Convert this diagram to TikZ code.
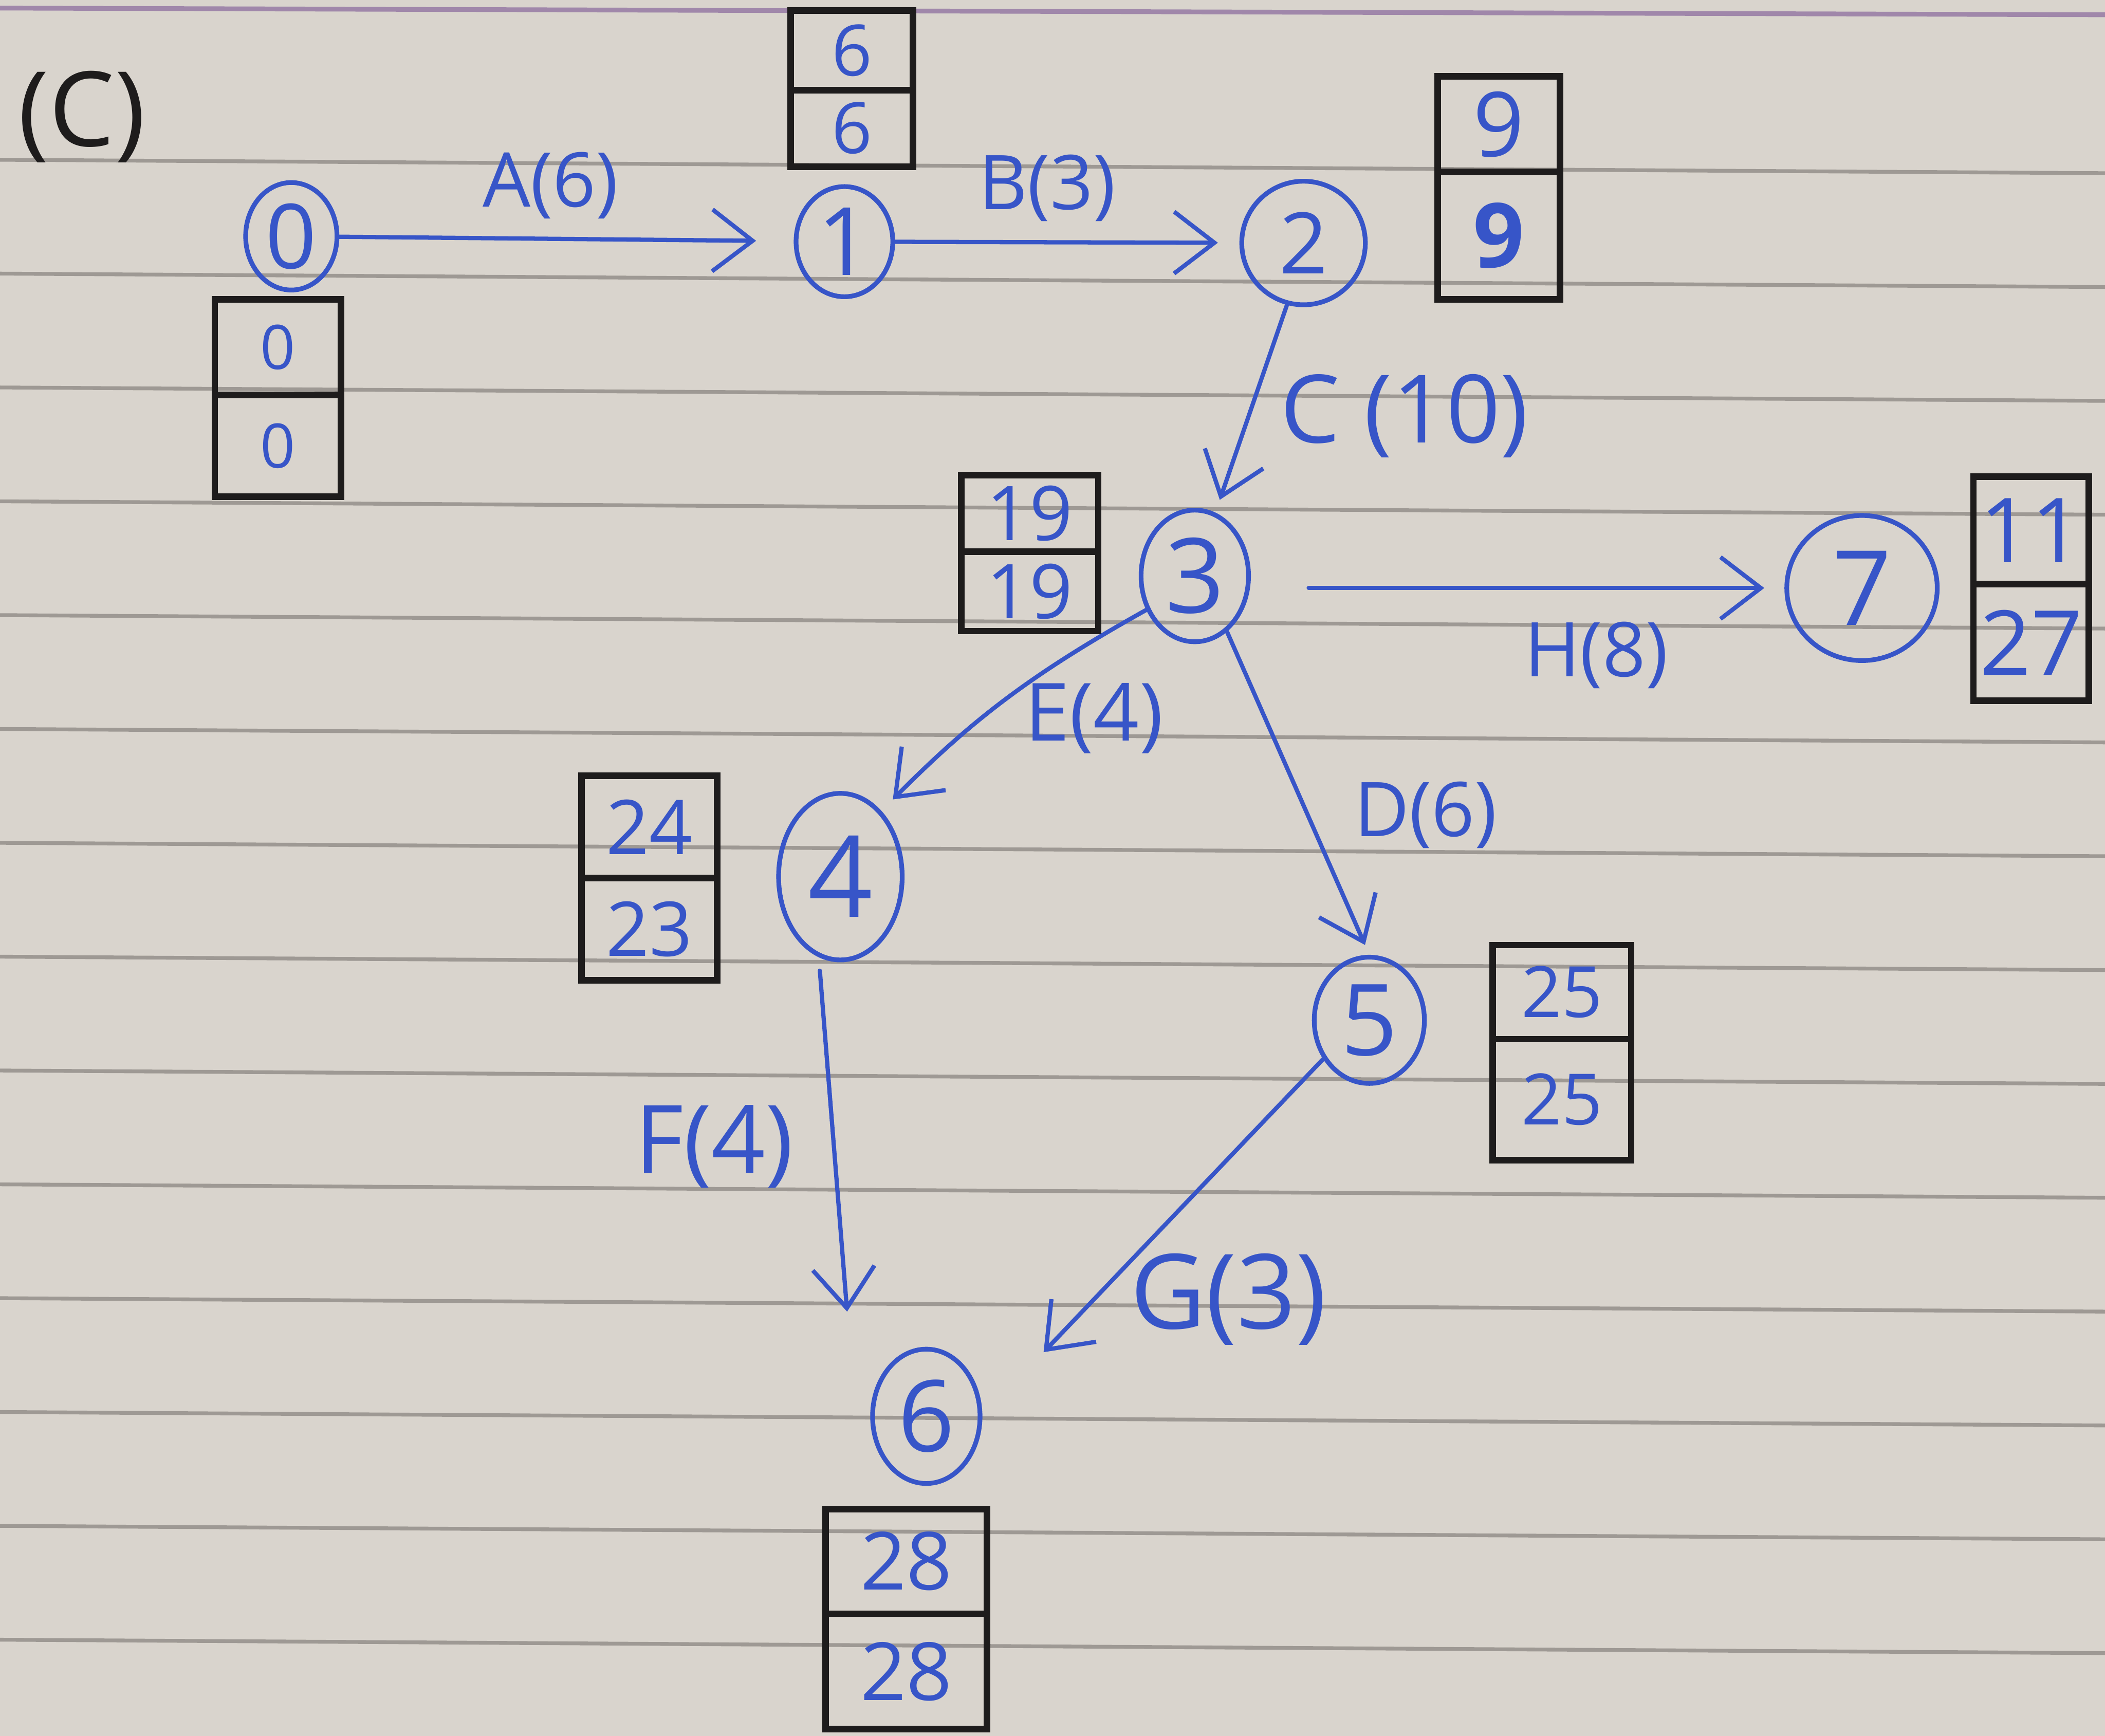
\documentclass[tikz,border=0pt]{standalone}
\usepackage{fontspec}
\setmainfont{Open Sans}
\usetikzlibrary{arrows.meta,shapes.geometric}

\definecolor{inkblue}{RGB}{55,85,200}
\definecolor{boxblack}{RGB}{30,28,28}
\definecolor{paper}{RGB}{217,212,205}
\definecolor{rule}{RGB}{158,153,148}
\definecolor{toprule}{RGB}{160,135,170}

\newcommand{\fs}[1]{\fontsize{#1}{#1}\selectfont}

\tikzset{
  evt/.style={ellipse, draw=inkblue, line width=1pt, inner sep=0pt, text=inkblue},
  cell/.style={rectangle, draw=boxblack, line width=1.4pt, inner sep=0pt, outer sep=0pt, text=inkblue},
  arr/.style={draw=inkblue, line width=0.9pt, line cap=round,
              -{Straight Barb[length=3mm, width=4.6mm, line width=0.9pt]}},
  lbl/.style={text=inkblue, inner sep=0pt},
  ruled/.style={draw=rule, line width=0.8pt},
}

\begin{document}
\begin{tikzpicture}[x=0.01cm, y=-0.01cm]
% paper and its ruling
\useasboundingbox (0,0) rectangle (1568,1293);
\fill[paper] (0,0) rectangle (1568,1293);
\draw[draw=toprule, line width=1pt] (0,6) -- (1568,11);
\foreach \k in {0,...,13} {
  \draw[ruled] (0,{119+84.8*\k}) -- (1568,{129+84.8*\k});
}

% part label
\node[text=boxblack, inner sep=0pt, font=\fs{22}] (part) at (61,87) {(C)};

% events
\node[evt, minimum width=0.68cm, minimum height=0.80cm, font=\fs{19}] (n0) at (217,176) {0};
\node[evt, minimum width=0.72cm, minimum height=0.82cm, font=\fs{20}] (n1) at (629,180) {1};
\node[evt, minimum width=0.92cm, minimum height=0.92cm, font=\fs{18}] (n2) at (971,181) {2};
\node[evt, minimum width=0.80cm, minimum height=0.98cm, font=\fs{22}] (n3) at (890,429) {3};
\node[evt, minimum width=1.12cm, minimum height=1.08cm, font=\fs{22}] (n7) at (1387,438) {7};
\node[evt, minimum width=0.92cm, minimum height=1.24cm, font=\fs{24}] (n4) at (626,653) {4};
\node[evt, minimum width=0.82cm, minimum height=0.94cm, font=\fs{21}] (n5) at (1020,760) {5};
\node[evt, minimum width=0.80cm, minimum height=1.00cm, font=\fs{21}] (n6) at (690,1055) {6};

% time boxes: earliest on top, latest below
\node[cell, minimum width=0.94cm, minimum height=0.71cm, anchor=north west, font=\fs{13}] (b0t) at (160,223) {0};
\node[cell, minimum width=0.94cm, minimum height=0.76cm, anchor=north, font=\fs{13}] (b0b) at (b0t.south) {0};

\node[cell, minimum width=0.91cm, minimum height=0.59cm, anchor=north west, font=\fs{15}] (b1t) at (589,8) {6};
\node[cell, minimum width=0.91cm, minimum height=0.57cm, anchor=north, font=\fs{15}] (b1b) at (b1t.south) {6};

\node[cell, minimum width=0.91cm, minimum height=0.71cm, anchor=north west, font=\fs{19}] (b2t) at (1071,57) {9};
\node[cell, minimum width=0.91cm, minimum height=0.95cm, anchor=north, font=\fs{19}] (b2b) at (b2t.south) {\textbf{9}};

\node[cell, minimum width=1.02cm, minimum height=0.57cm, anchor=north west, font=\fs{16}] (b3t) at (716,354) {19};
\node[cell, minimum width=1.02cm, minimum height=0.59cm, anchor=north, font=\fs{16}] (b3b) at (b3t.south) {19};

\node[cell, minimum width=0.86cm, minimum height=0.80cm, anchor=north west, font=\fs{19}] (b7t) at (1470,355) {11};
\node[cell, minimum width=0.86cm, minimum height=0.87cm, anchor=north, font=\fs{19}] (b7b) at (b7t.south) {27};

\node[cell, minimum width=1.01cm, minimum height=0.76cm, anchor=north west, font=\fs{16}] (b4t) at (433,578) {24};
\node[cell, minimum width=1.01cm, minimum height=0.76cm, anchor=north, font=\fs{16}] (b4b) at (b4t.south) {23};

\node[cell, minimum width=1.03cm, minimum height=0.70cm, anchor=north west, font=\fs{15}] (b5t) at (1112,704) {25};
\node[cell, minimum width=1.03cm, minimum height=0.90cm, anchor=north, font=\fs{15}] (b5b) at (b5t.south) {25};

\node[cell, minimum width=1.20cm, minimum height=0.78cm, anchor=north west, font=\fs{17}] (b6t) at (615,1124) {28};
\node[cell, minimum width=1.20cm, minimum height=0.86cm, anchor=north, font=\fs{17}] (b6b) at (b6t.south) {28};

% activities
\draw[arr, shorten >=0.28cm] (n0) -- (n1);
\draw[arr, shorten >=0.16cm] (n1) -- (n2);
\draw[arr, shorten >=0.10cm] (n2.255) -- (n3.72);
\draw[arr, shorten <=0.43cm, shorten >=0.15cm] (n3.east |- n7.west) -- (n7.west);
\draw[arr, shorten >=0.12cm] (n3.215) to[bend right=8] (n4.58);
\draw[arr, shorten >=0.08cm] (n3.-60) -- (n5.north);
\path (n6.center) ++(-59,-78) coordinate (ftip);
\draw[arr, shorten <=0.10cm] (n4.255) -- (ftip);
\draw[arr, shorten >=0.66cm] (n5.220) -- (n6.east);

% activity labels
\node[lbl, font=\fs{16}] (lA) at (410,138) {A(6)};
\node[lbl, font=\fs{16}] (lB) at (780,140) {B(3)};
\node[lbl, font=\fs{20}] (lC) at (1046,310) {C (10)};
\node[lbl, font=\fs{16}] (lH) at (1189,488) {H(8)};
\node[lbl, font=\fs{17}] (lE) at (815,535) {E(4)};
\node[lbl, font=\fs{16}] (lD) at (1062,607) {D(6)};
\node[lbl, font=\fs{20}] (lF) at (532,854) {F(4)};
\node[lbl, font=\fs{22}] (lG) at (915,968) {G(3)};
\end{tikzpicture}
\end{document}
